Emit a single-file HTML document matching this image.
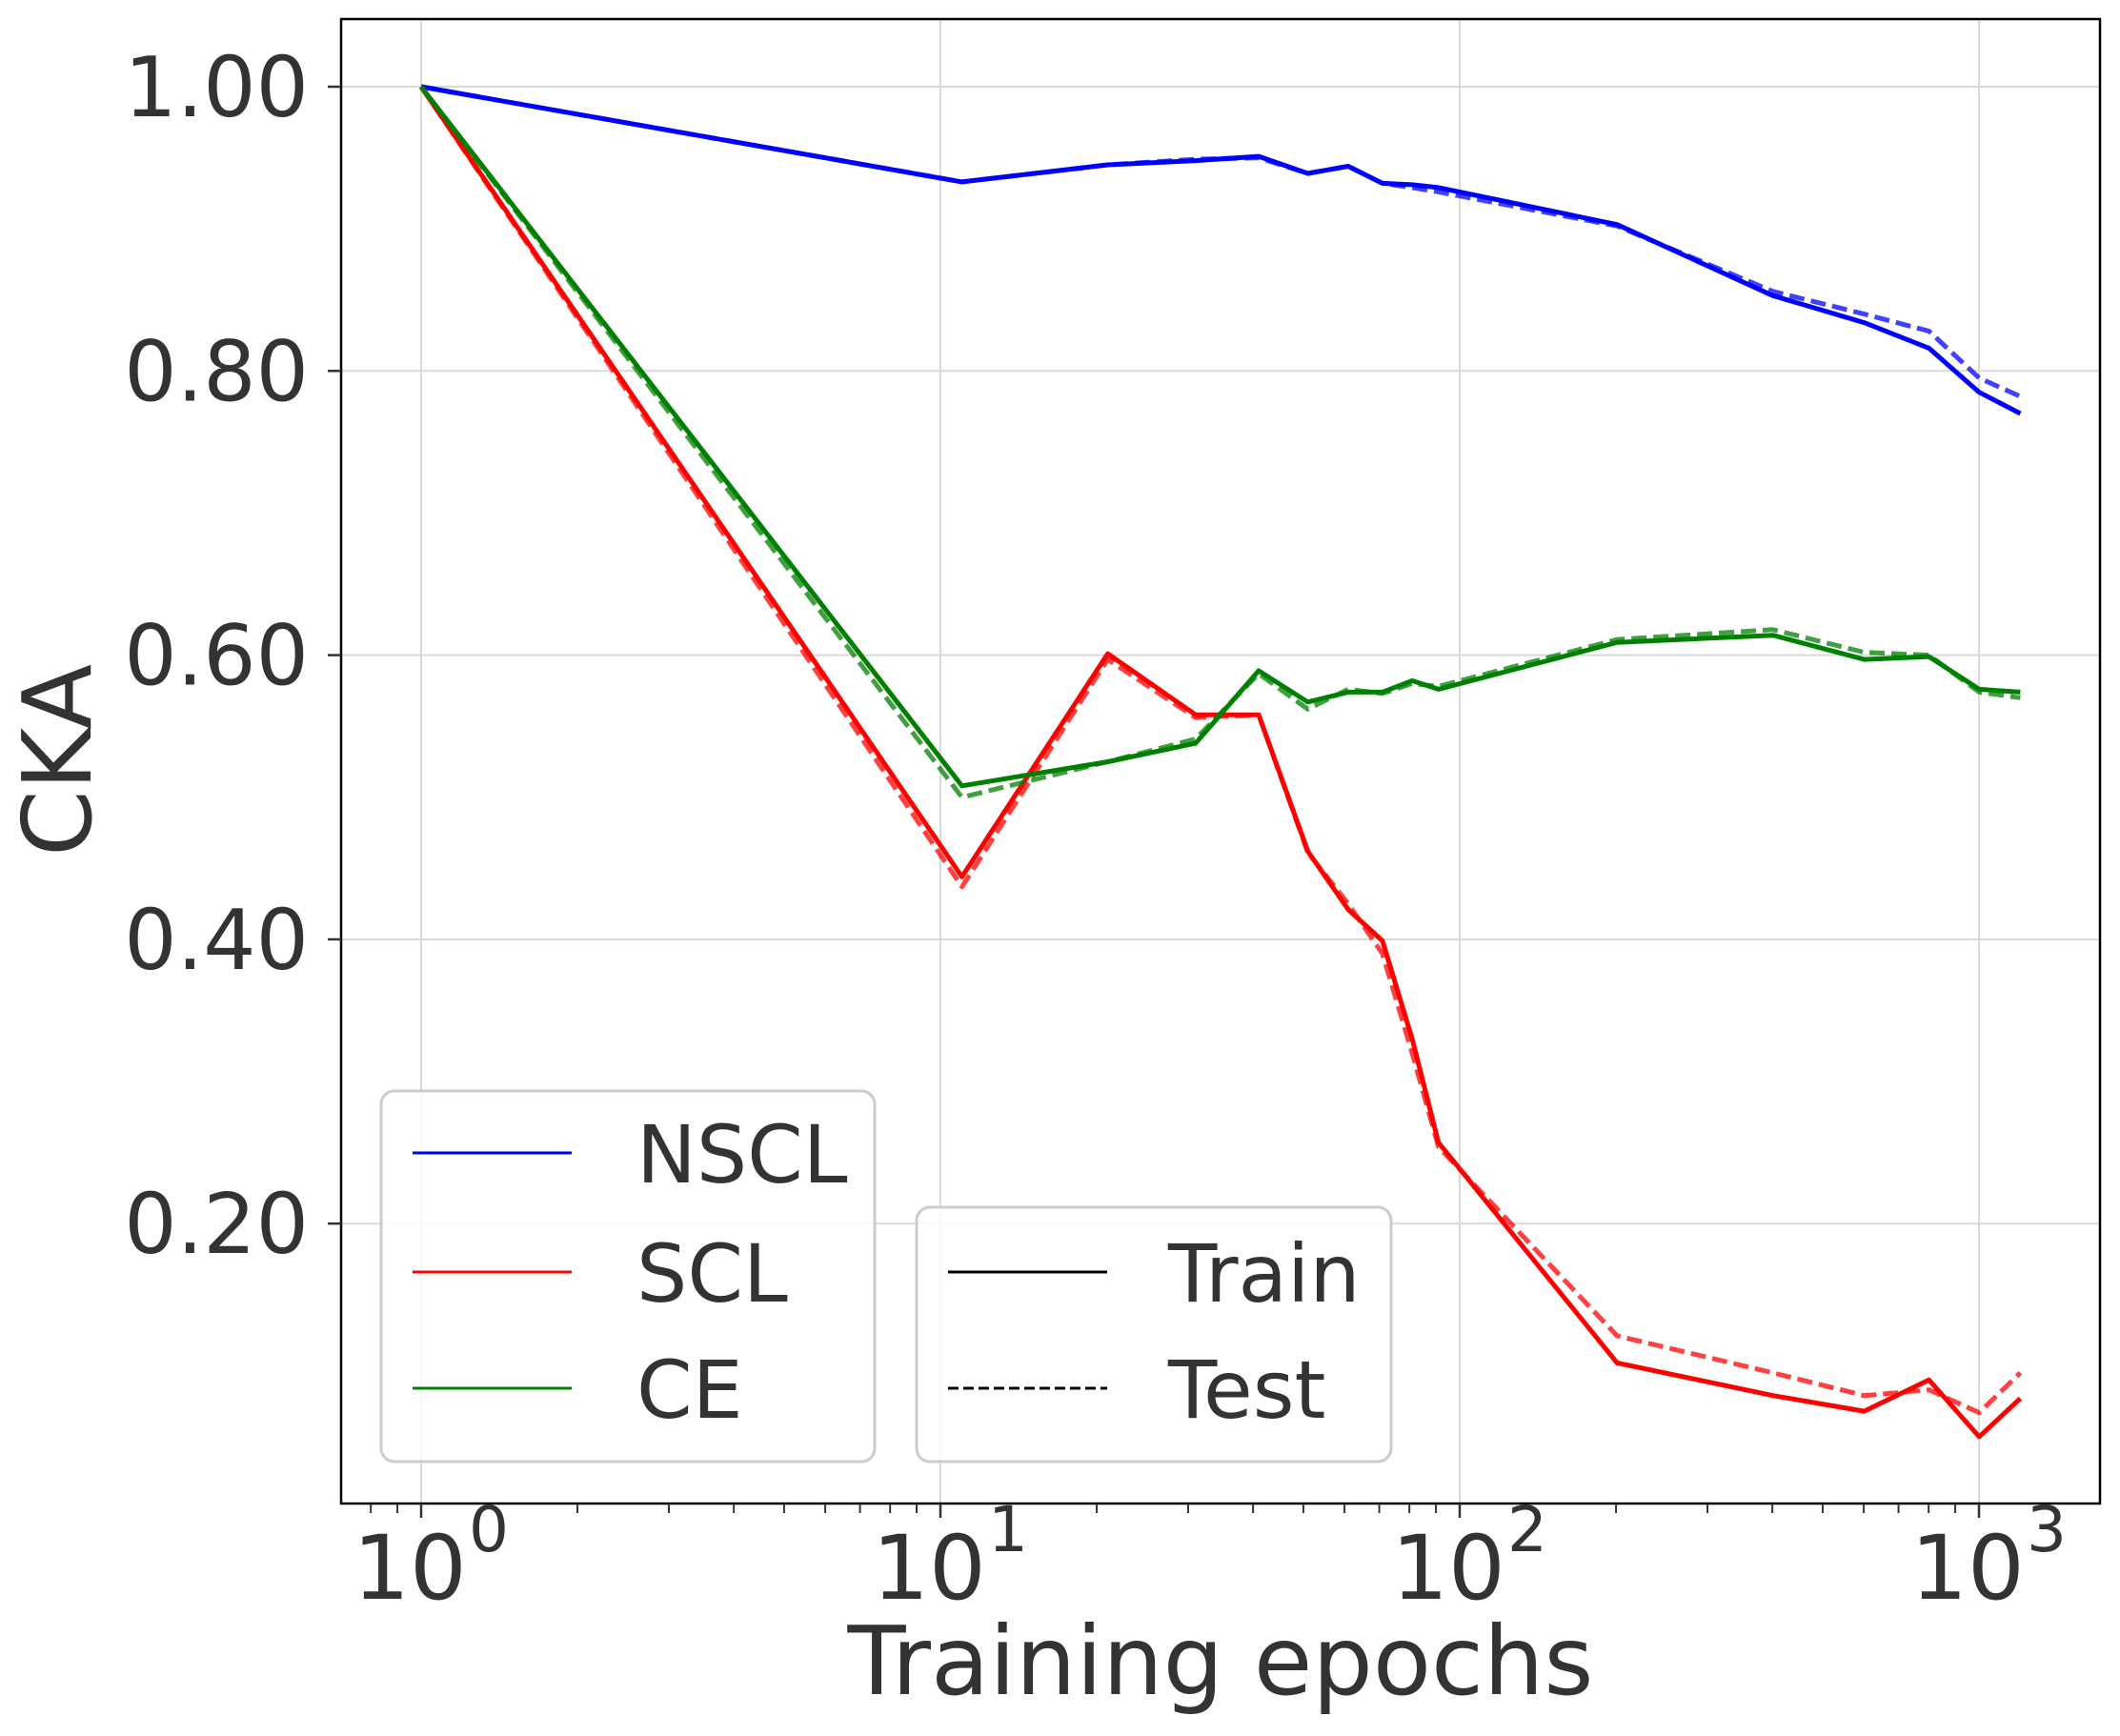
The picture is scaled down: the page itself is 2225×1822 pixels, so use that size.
<!DOCTYPE html>
<html><head><meta charset="utf-8"><style>
html,body{margin:0;padding:0;background:#fff;}
svg{display:block;}
text{font-family:"DejaVu Sans","Liberation Sans",sans-serif;fill:#333;}
</style></head><body>
<svg id="s" width="2225" height="1822" viewBox="0 0 2225 1822" xmlns="http://www.w3.org/2000/svg">
<rect width="2225" height="1822" fill="#fff"/>
<g id="grid" stroke="#d9d9d9" stroke-width="2"></g>
<g id="lines" fill="none" stroke-width="5" stroke-linejoin="round"></g>
<rect x="358" y="20" width="1846" height="1558" fill="none" stroke="#000" stroke-width="2.5"/>
<g id="ticks" stroke="#333" stroke-width="2.5"></g>
<g id="labels"></g>
<!-- legend 1 -->
<rect x="400" y="1145" width="518" height="389" rx="14" fill="#fff" fill-opacity="0.8" stroke="#ccc" stroke-width="3"/>
<line x1="433" y1="1210" x2="600" y2="1210" stroke="#0000ff" stroke-width="3"/>
<line x1="433" y1="1335" x2="600" y2="1335" stroke="#ff0000" stroke-width="3"/>
<line x1="433" y1="1457" x2="600" y2="1457" stroke="#008000" stroke-width="3"/>
<text x="668" y="1241" font-size="84">NSCL</text>
<text x="668" y="1366" font-size="84">SCL</text>
<text x="668" y="1488" font-size="84">CE</text>
<!-- legend 2 -->
<rect x="962" y="1267" width="498" height="267" rx="14" fill="#fff" fill-opacity="0.8" stroke="#ccc" stroke-width="3"/>
<line x1="995" y1="1335" x2="1162" y2="1335" stroke="#000" stroke-width="3"/>
<line x1="995" y1="1457" x2="1162" y2="1457" stroke="#000" stroke-width="3" stroke-dasharray="11,5"/>
<text x="1226" y="1366" font-size="84">Train</text>
<text x="1226" y="1488" font-size="84">Test</text>
<text x="1281" y="1778" font-size="100" text-anchor="middle">Training epochs</text>
<text transform="translate(95,798) rotate(-90)" font-size="100" text-anchor="middle">CKA</text>
</svg>
<script>
const NS="http://www.w3.org/2000/svg";
const X=e=>442+545*Math.log10(e), Y=v=>91+(1-v)*1491.5;
function el(p,t,a,txt){const e=document.createElementNS(NS,t);for(const k in a)e.setAttribute(k,a[k]);if(txt!==undefined)e.textContent=txt;document.getElementById(p).appendChild(e);return e;}
for(let d=0;d<4;d++){const x=X(Math.pow(10,d));el("grid","line",{x1:x,y1:20,x2:x,y2:1578});}
for(const v of [0.2,0.4,0.6,0.8,1.0]){const y=Y(v);el("grid","line",{x1:358,y1:y,x2:2204,y2:y});
 el("ticks","line",{x1:344,y1:y,x2:358,y2:y});
 el("labels","text",{x:324,y:y+31,"font-size":87,"text-anchor":"end"},v.toFixed(2));}
for(let d=-1;d<4;d++){for(let m=1;m<10;m++){const e=m*Math.pow(10,d);const x=X(e);if(x<358||x>2204)continue;
 el("ticks","line",{x1:x,y1:1578,x2:x,y2:m==1?1593:1588,"stroke-width":m==1?2.5:2});}}
for(let d=0;d<4;d++){const x=X(Math.pow(10,d));
 el("labels","text",{x:x-12,y:1678,"font-size":94,"text-anchor":"middle"},"10");
 el("labels","text",{x:x+50,y:1628,"font-size":66},String(d));}
const E=[1,11,21,31,41,51,61,71,81,91,201,401,601,801,1001,1201];
const S={
 nt:[1,.933,.945,.948,.951,.939,.944,.932,.931,.929,.903,.853,.834,.816,.785,.770],
 ns:[1,.933,.945,.949,.950,.939,.944,.932,.929,.926,.902,.856,.840,.828,.795,.782],
 st:[1,.444,.601,.558,.558,.462,.421,.399,.33,.257,.102,.079,.068,.090,.050,.077],
 ss:[1,.437,.597,.556,.558,.461,.425,.390,.32,.254,.121,.095,.079,.083,.067,.095],
 ct:[1,.508,.525,.538,.589,.567,.574,.574,.582,.576,.609,.614,.597,.599,.576,.574],
 cs:[1,.500,.525,.541,.587,.562,.576,.573,.580,.578,.611,.618,.602,.600,.574,.570]};
function pl(d,c,dash){const pts=d.map((v,i)=>X(E[i]).toFixed(1)+","+Y(v).toFixed(1)).join(" ");
 const a={points:pts,stroke:c};if(dash){a["stroke-dasharray"]="16,7";a["stroke-opacity"]=0.75;}el("lines","polyline",a);}
pl(S.ns,"#0000ff",1);pl(S.nt,"#0000ff");
pl(S.ss,"#ff0000",1);pl(S.st,"#ff0000");
pl(S.cs,"#008000",1);pl(S.ct,"#008000");
</script>
</body></html>
